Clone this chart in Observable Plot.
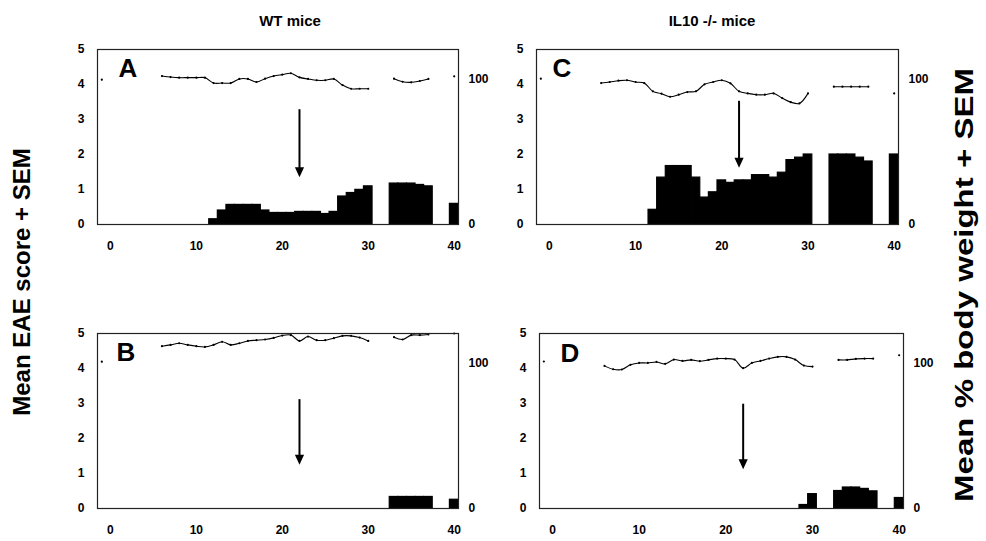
<!DOCTYPE html>
<html>
<head>
<meta charset="utf-8">
<script src="https://cdn.jsdelivr.net/npm/d3@7"></script>
<script src="https://cdn.jsdelivr.net/npm/@observablehq/plot@0.6"></script>
<style>
  html, body { margin: 0; padding: 0; background: #fff; }
  #wrap { position: relative; width: 986px; height: 541px; overflow: hidden;
          font-family: "Liberation Sans", Arial, sans-serif; font-weight: bold; color: #000; }
  .ttl { position: absolute; font-size: 15px; transform: translate(-50%, -50%); white-space: nowrap; }
  .ytitle { position: absolute; white-space: nowrap; }
  .panel { position: absolute; }
</style>
</head>
<body>
<div id="wrap">
  <div class="ttl" style="left:290px; top:20px;">WT mice</div>
  <div class="ttl" style="left:712px; top:20px;">IL10 -/- mice</div>
  <div class="ytitle" style="left:22px; top:282px; font-size:24px; transform: translate(-50%, -50%) rotate(-90deg);">Mean EAE score + SEM</div>
  <div class="ytitle" style="left:964px; top:285px; font-size:26px; transform: translate(-50%, -50%) rotate(-90deg) scaleX(1.27);">Mean % body weight + SEM</div>
  <div id="pA" class="panel" style="left:60px; top:40px;"></div>
  <div id="pC" class="panel" style="left:499px; top:40px;"></div>
  <div id="pB" class="panel" style="left:60px; top:324px;"></div>
  <div id="pD" class="panel" style="left:502px; top:324px;"></div>
</div>
<script>
// Days after immunisation: -1 .. 40 (42 categories)
const days = d3.range(-1, 41);
const xTicks = [0, 10, 20, 30, 40];
const scoreTicks = [0, 1, 2, 3, 4, 5];
const weightTicks = [0, 100];
const panelLetters = ["A", "B", "C", "D"];
const arrowDay = 22;
const arrowTop = [3.28, 3.11, 3.52, 2.98];   // A, B, C, D
const arrowTip = [1.35, 1.25, 1.62, 1.12];

// Mean EAE score by day (-1 .. 40)
const scoreA = [0,0,0,0,0,0,0,0,0,0,0,0,0,
  0.15, 0.40, 0.56, 0.56, 0.56, 0.56, 0.40, 0.33, 0.33, 0.33,
  0.36, 0.36, 0.36, 0.30, 0.36, 0.80, 0.90, 0.99, 1.09, 0, 0,
  1.17, 1.17, 1.17, 1.13, 1.09, 0, 0, 0.59];
const scoreB = [0,0,0,0,0,0,0,0,0,0,0,0,0,
  0, 0, 0, 0, 0, 0, 0, 0, 0, 0,
  0, 0, 0, 0, 0, 0, 0, 0, 0, 0, 0,
  0.33, 0.33, 0.33, 0.33, 0.33, 0, 0, 0.25];
const scoreC = [0,0,0,0,0,0,0,0,0,0,0,0,0,
  0.42, 1.34, 1.67, 1.67, 1.67, 1.34, 0.77, 0.92, 1.26, 1.19,
  1.26, 1.26, 1.41, 1.41, 1.34, 1.48, 1.84, 1.91, 2.0, 0, 0,
  2.0, 2.0, 2.0, 1.91, 1.80, 0, 0, 2.0];
const scoreD = [0,0,0,0,0,0,0,0,0,0,0,0,0,
  0, 0, 0, 0, 0, 0, 0, 0, 0, 0,
  0, 0, 0, 0, 0, 0, 0, 0.10, 0.41, 0, 0,
  0.50, 0.60, 0.60, 0.56, 0.49, 0, 0, 0.30];

// Mean % body weight by day (-1 .. 40), null = not measured
const N = null;
const weightA = [99.3, N,N,N,N,N,N,
  101.8, 101.1, 100.7, 100.7, 100.7, 100.7, 97.0, 97.0, 97.0, 99.8,
  99.8, 97.7, 100.0, 101.8, 102.8, 103.7, 100.9, 99.8, 98.9, 98.9,
  99.8, 95.6, 93.1, 93.1, 93.1, N, N,
  100.0, 97.9, 97.5, 98.4, 99.8, N, N, 101.6];
const weightB = [100.7, N,N,N,N,N,N,
  111.3, 112.2, 113.3, 112.2, 111.3, 110.8, 112.2, 114.3, 112.2, 113.3,
  114.9, 115.4, 115.9, 117.0, 118.6, 118.9, 114.9, 117.9, 115.4, 115.4,
  116.8, 118.4, 118.4, 117.2, 114.9, N, N,
  117.5, 115.9, 118.9, 118.9, 119.3, N, N, 120.0];
const weightC = [100.0, N,N,N,N,N,N,
  97.0, 97.7, 98.6, 98.9, 97.7, 97.0, 91.3, 89.7, 87.6, 89.0,
  90.8, 91.3, 96.1, 97.7, 98.9, 96.8, 91.3, 89.9, 89.0, 89.0,
  89.9, 86.7, 83.9, 83.0, 89.9, N, N,
  94.5, 94.5, 94.5, 94.5, 94.5, N, N, 89.9];
const weightD = [100.8, N,N,N,N,N,N,
  97.8, 95.5, 95.3, 98.5, 99.8, 99.8, 100.5, 99.2, 102.1, 101.2,
  101.9, 101.0, 101.9, 102.8, 102.8, 102.1, 96.2, 99.8, 101.2, 102.8,
  104.0, 104.0, 102.1, 98.0, 97.3, N, N,
  101.9, 101.9, 102.6, 102.8, 102.8, N, N, 105.1];

const K = 5 / 120; // right axis 0..120 mapped onto left axis 0..5

const downTriangle = {
  draw(ctx) { ctx.moveTo(-4.6, -10); ctx.lineTo(4.6, -10); ctx.lineTo(0, 0); ctx.closePath(); }
};

function panel(score, weight, letter, aTop, aTip, width, mr, letterDx, letterDy) {
  const rows = days.map((d, i) => ({day: d, score: score[i], w: weight[i]}));
  const bars = rows.filter(r => r.score > 0);
  const pts = rows.filter(r => r.w != null);
  const arrow = [{x: arrowDay, top: aTop, tip: aTip}];
  return Plot.plot({
    width, height: 230,
    marginLeft: 37, marginRight: mr, marginTop: 9, marginBottom: 46,
    x: {domain: [-1.5, 40.5]},
    y: {domain: [0, 5]},
    style: {fontFamily: '"Liberation Sans", Arial, sans-serif', fontWeight: "bold", fontSize: "12px", color: "#000", background: "#fff", overflow: "visible"},
    marks: [
      Plot.rectY(bars, {x1: r => r.day - 0.5, x2: r => r.day + 0.5, y: "score",
        inset: 0, insetLeft: 0, insetRight: 0, fill: "#000", stroke: "#000", strokeWidth: 1.2, strokeLinejoin: "miter"}),
      Plot.lineY(rows, {x: "day", y: r => r.w == null ? NaN : r.w * K, curve: "catmull-rom", stroke: "#000", strokeWidth: 1.1}),
      Plot.dot(pts, {x: "day", y: r => r.w * K, r: 1.1, fill: "#000", stroke: null}),
      Plot.ruleX(arrow, {x: "x", y1: "top", y2: "tip", stroke: "#000", strokeWidth: 2, insetBottom: 6}),
      Plot.dot(arrow, {x: "x", y: "tip", symbol: downTriangle, fill: "#000", stroke: null}),
      Plot.axisX({ticks: xTicks, tickSize: 0, tickPadding: 17, tickFormat: "d", label: null}),
      Plot.axisY({ticks: scoreTicks, tickSize: 0, tickPadding: 13, tickFormat: "d", label: null}),
      Plot.axisY(weightTicks.map(v => v * K), {anchor: "right", tickSize: 0, tickPadding: 10, tickFormat: v => String(Math.round(v / K)), label: null}),
      Plot.frame({stroke: "#222", strokeWidth: 1.2}),
      Plot.text([letter], {frameAnchor: "top-left", dx: letterDx, dy: letterDy, fontSize: 26, fontWeight: "bold", fill: "#000"})
    ]
  });
}

document.getElementById("pA").append(panel(scoreA, weightA, panelLetters[0], arrowTop[0], arrowTip[0], 440, 42, 21, 9));
document.getElementById("pB").append(panel(scoreB, weightB, panelLetters[1], arrowTop[1], arrowTip[1], 440, 42, 19, 9));
document.getElementById("pC").append(panel(scoreC, weightC, panelLetters[2], arrowTop[2], arrowTip[2], 440, 41, 16, 9));
document.getElementById("pD").append(panel(scoreD, weightD, panelLetters[3], arrowTop[3], arrowTip[3], 443, 42, 21, 10));
</script>
</body>
</html>
